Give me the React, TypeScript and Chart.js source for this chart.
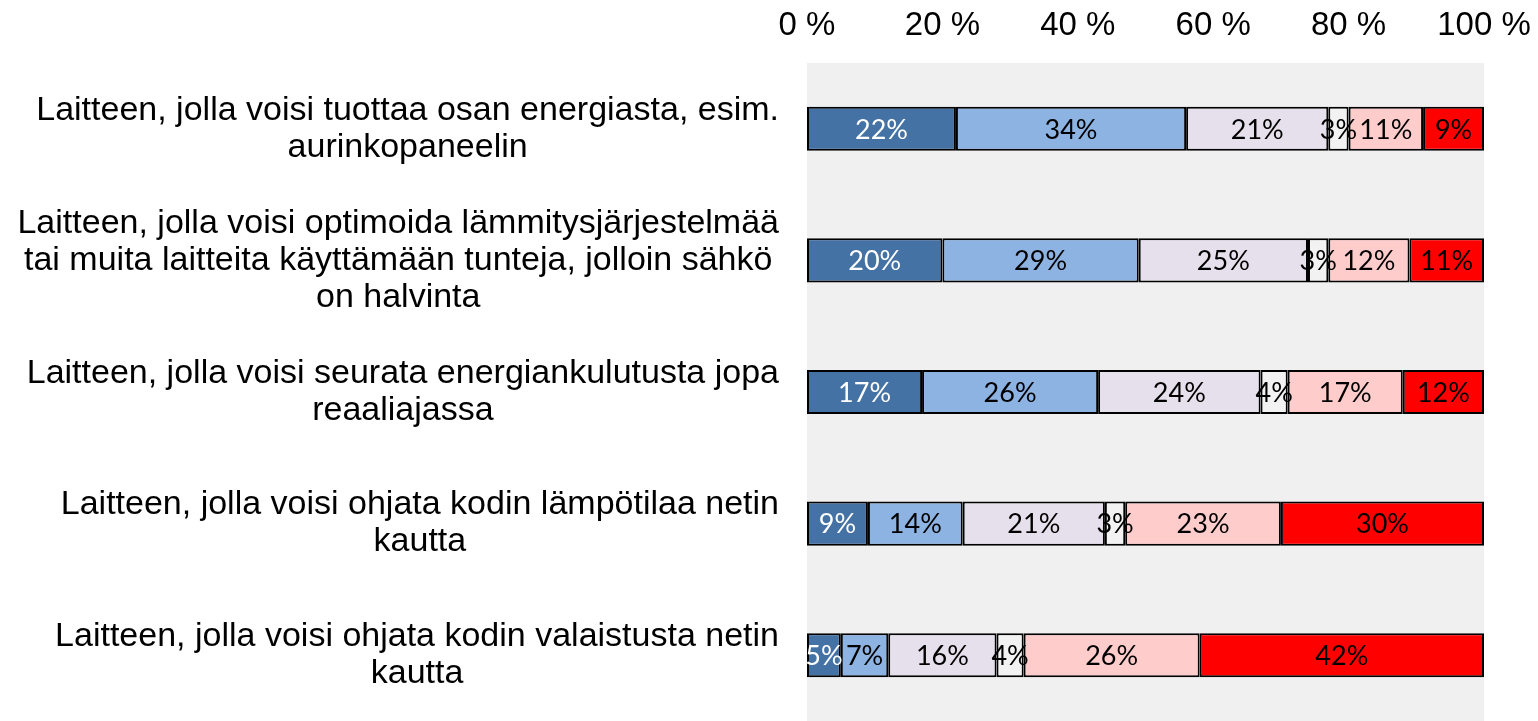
import React, { useEffect, useRef } from 'react';
import { Chart, registerables } from 'chart.js';

Chart.register(...registerables);

const categories: string[][] = [
  ['Laitteen, jolla voisi tuottaa osan energiasta, esim.', 'aurinkopaneelin'],
  ['Laitteen, jolla voisi optimoida lämmitysjärjestelmää', 'tai muita laitteita käyttämään tunteja, jolloin sähkö', 'on halvinta'],
  ['Laitteen, jolla voisi seurata energiankulutusta jopa', 'reaaliajassa'],
  ['Laitteen, jolla voisi ohjata kodin lämpötilaa netin', 'kautta'],
  ['Laitteen, jolla voisi ohjata kodin valaistusta netin', 'kautta'],
];

const series1 = [22, 20, 17, 9, 5];
const series2 = [34, 29, 26, 14, 7];
const series3 = [21, 25, 24, 21, 16];
const series4 = [3, 3, 4, 3, 4];
const series5 = [11, 12, 17, 23, 26];
const series6 = [9, 11, 12, 30, 42];

const seriesNames = ['1', '2', '3', '4', '5', '6'];
const seriesColors = ['#4472A4', '#8DB3E2', '#E6E0EC', '#F2F2F2', '#FFCCCC', '#FF0000'];
const labelColors = ['#FFFFFF', '#000000', '#000000', '#000000', '#000000', '#000000'];

const xTickMin = 0;
const xTickMax = 100;
const xTickStep = 20;

const AXIS_FONT = 'Liberation Sans, Arial, sans-serif';
const LABEL_FONT = 'Lato, sans-serif';

const bgPlugin = {
  id: 'plotBg',
  beforeDraw(chart: any) {
    const { ctx, chartArea } = chart;
    ctx.save();
    ctx.fillStyle = '#F0F0F0';
    ctx.fillRect(chartArea.left, chartArea.top, chartArea.right - chartArea.left, chartArea.bottom - chartArea.top);
    ctx.restore();
  },
};

const valueLabelPlugin = {
  id: 'valueLabels',
  afterDatasetsDraw(chart: any) {
    const { ctx } = chart;
    ctx.save();
    ctx.font = `27px ${LABEL_FONT}`;
    ctx.textAlign = 'center';
    ctx.textBaseline = 'middle';
    chart.data.datasets.forEach((ds: any, di: number) => {
      const meta = chart.getDatasetMeta(di);
      meta.data.forEach((el: any, i: number) => {
        const v = ds.data[i];
        const cx = (el.x + el.base) / 2;
        ctx.fillStyle = labelColors[di];
        ctx.fillText(`${v}%`, cx, el.y + 1);
      });
    });
    ctx.restore();
  },
};

const categoryLabelPlugin = {
  id: 'categoryLabels',
  afterDraw(chart: any) {
    const { ctx } = chart;
    const yScale = chart.scales.y;
    const rightEdge = 779;
    const lineH = 37;
    ctx.save();
    ctx.font = `34px ${AXIS_FONT}`;
    ctx.fillStyle = '#000000';
    ctx.textAlign = 'center';
    ctx.textBaseline = 'middle';
    categories.forEach((lines, i) => {
      const cy = yScale.getPixelForValue(i);
      const blockW = Math.max(...lines.map((l) => ctx.measureText(l).width));
      const cx = rightEdge - blockW / 2;
      const startY = cy - ((lines.length - 1) * lineH) / 2;
      lines.forEach((l, j) => {
        ctx.fillText(l, cx, startY + j * lineH);
      });
    });
    ctx.restore();
  },
};

export default function App() {
  const canvasRef = useRef<HTMLCanvasElement | null>(null);

  useEffect(() => {
    document.body.style.margin = '0';
    const canvas = canvasRef.current;
    if (!canvas) return;
    const allSeries = [series1, series2, series3, series4, series5, series6];
    const chart = new Chart(canvas, {
      type: 'bar',
      data: {
        labels: categories.map((c) => c.join(' ')),
        datasets: allSeries.map((d, i) => ({
          label: seriesNames[i],
          data: d,
          backgroundColor: seriesColors[i],
          borderColor: '#000000',
          borderWidth: 2,
          borderSkipped: false,
          barPercentage: 0.335,
          categoryPercentage: 1,
        })),
      },
      options: {
        indexAxis: 'y',
        animation: false,
        responsive: true,
        maintainAspectRatio: false,
        layout: { padding: { left: 0, right: 54, top: 0, bottom: 0 } },
        plugins: {
          legend: { display: false },
          tooltip: { enabled: false },
        },
        scales: {
          x: {
            stacked: true,
            position: 'top',
            min: xTickMin,
            max: xTickMax,
            ticks: {
              stepSize: xTickStep,
              callback: (v: any) => `${v} %`,
              font: { family: AXIS_FONT, size: 33 },
              color: '#000000',
              padding: 17,
              maxRotation: 0,
            },
            grid: { display: false, drawTicks: false },
            border: { display: false },
            afterFit: (scale: any) => {
              scale.height = 63;
              scale.paddingLeft = 0;
              scale.paddingRight = 0;
            },
          },
          y: {
            stacked: true,
            ticks: { display: false },
            grid: { display: false, drawTicks: false },
            border: { display: false },
            afterFit: (scale: any) => {
              scale.width = 807;
            },
          },
        },
      },
      plugins: [bgPlugin, valueLabelPlugin, categoryLabelPlugin],
    });
    return () => chart.destroy();
  }, []);

  return (
    <div style={{ width: 1538, height: 721, position: 'relative' }}>
      <canvas ref={canvasRef} />
    </div>
  );
}
